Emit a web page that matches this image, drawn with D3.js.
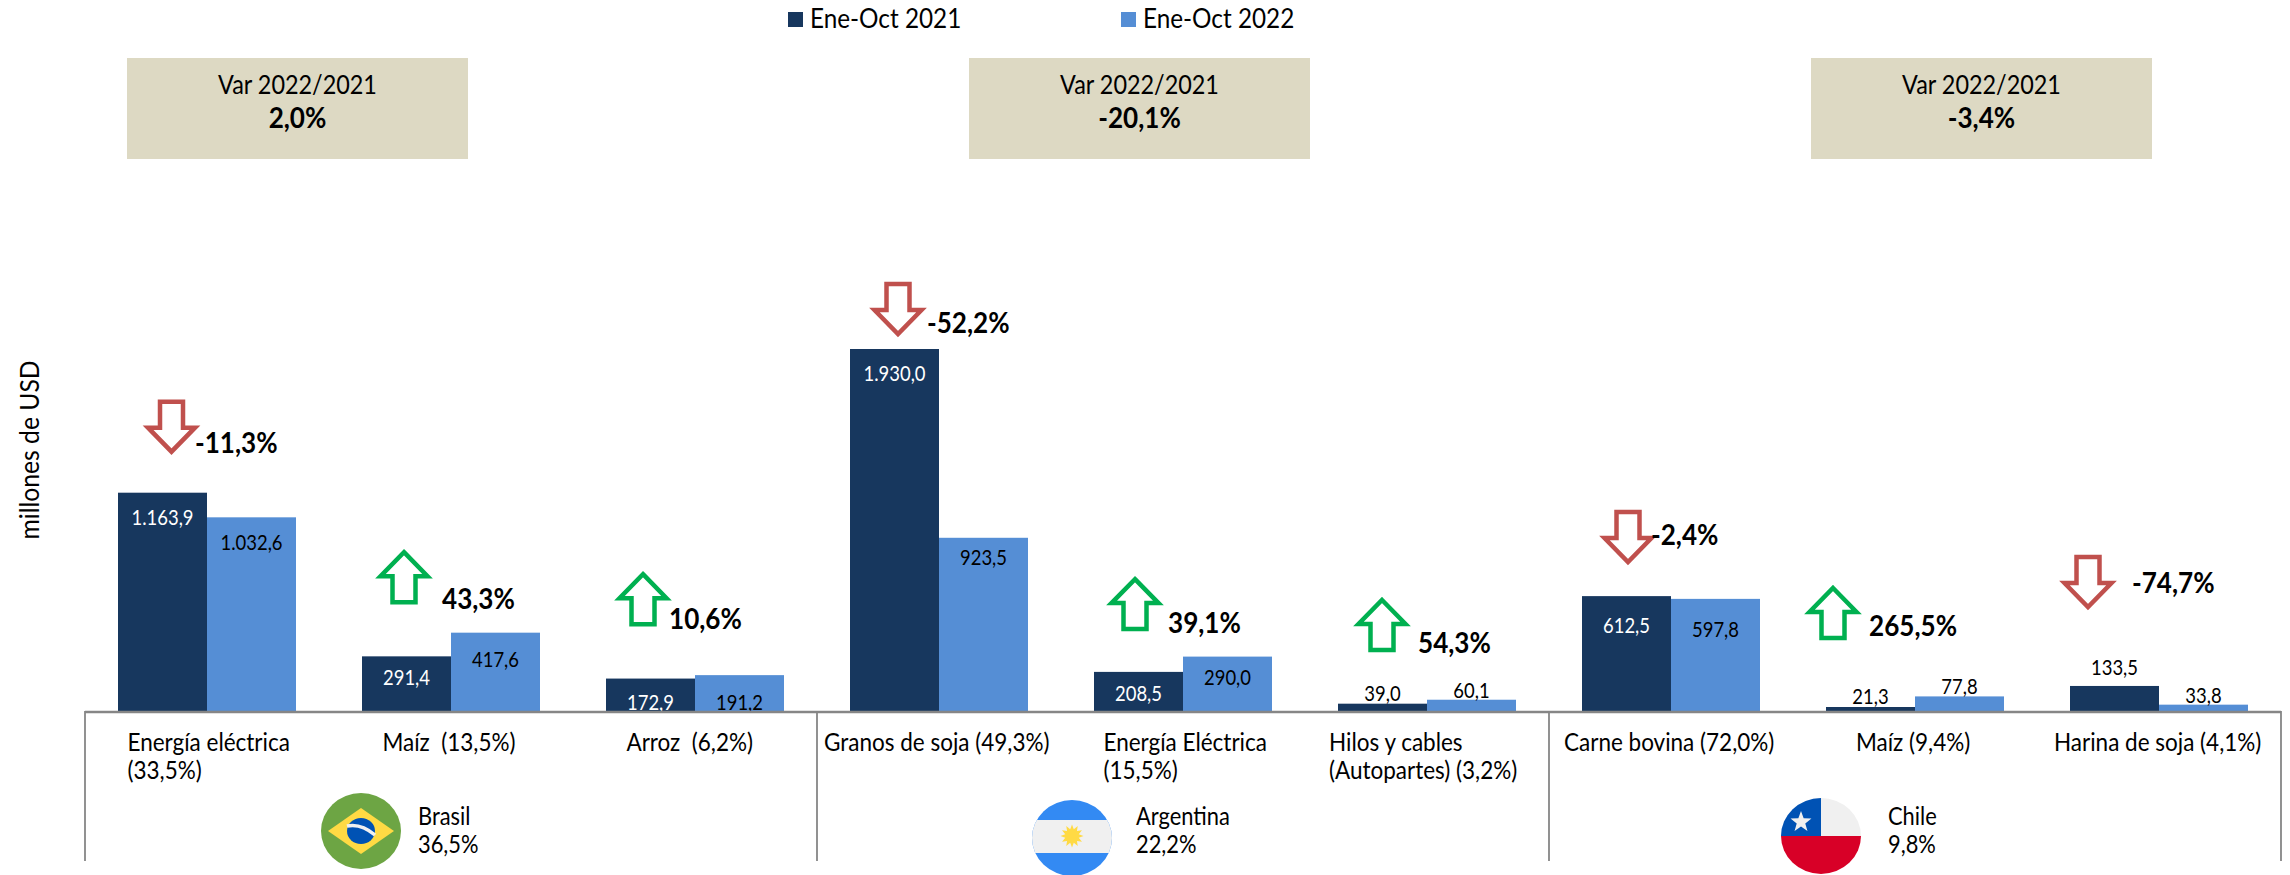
<!DOCTYPE html>
<html><head><meta charset="utf-8">
<script src="https://cdn.jsdelivr.net/npm/d3@7"></script>
<style>html,body{margin:0;padding:0;background:#fff;overflow:hidden}svg{display:block}text{font-family:Lato,"Open Sans",sans-serif;fill:#000}</style>
</head><body>
<script>
const seriesNames = ["Ene-Oct 2021","Ene-Oct 2022"];
const categories = ["Energía eléctrica|(33,5%)","Maíz  (13,5%)","Arroz  (6,2%)","Granos de soja (49,3%)","Energía Eléctrica|(15,5%)","Hilos y cables|(Autopartes) (3,2%)","Carne bovina (72,0%)","Maíz (9,4%)","Harina de soja (4,1%)"];
const values2021 = [1163.9,291.4,172.9,1930.0,208.5,39.0,612.5,21.3,133.5];
const values2022 = [1032.6,417.6,191.2,923.5,290.0,60.1,597.8,77.8,33.8];
const variations = ["-11,3%","43,3%","10,6%","-52,2%","39,1%","54,3%","-2,4%","265,5%","-74,7%"];
const countries = ["Brasil","Argentina","Chile"];
const countryShares = ["36,5%","22,2%","9,8%"];
const countryVars = ["2,0%","-20,1%","-3,4%"];

// ---- layout ----
const W=2290,H=875,base=711,axisL=85,axisR=2281;
const svg=d3.select("body").append("svg").attr("width",W).attr("height",H);
const idx=d3.range(categories.length);
const x=d3.scaleBand().domain(idx).range([axisL,axisR]).paddingInner(66/244).paddingOuter(33/244);
const xs=d3.scaleBand().domain([0,1]).range([0,x.bandwidth()]);
const y=d3.scaleLinear().domain([0,1930]).range([base,349]);
const colors=["#17375E","#558ED5"];
const fmt=v=>{const s=v.toFixed(1).replace(".",",");return v>=1000?s.replace(/^(\d)(\d{3})/,"$1.$2"):s;};
const TX=0.9; // horizontal condensing so Lato matches the narrower original face
function put(sel,px,py,anchor){
  return sel.attr("text-anchor",anchor||"start").attr("transform",`translate(${px},${py}) scale(${TX},1)`);
}

// bars
[values2021,values2022].forEach((vals,s)=>{
  svg.append("g").selectAll("rect").data(vals).join("rect")
    .attr("x",(d,i)=>x(i)+xs(s)).attr("width",xs.bandwidth())
    .attr("y",d=>y(d)).attr("height",d=>base-y(d)).attr("fill",colors[s]);
});

// value labels: baseline offset relative to bar top
const labelDy=[[32,29,31,32,29,-3,37,-3,-11],[33,34,35,27,28,-2,38,-2,-2]];
[values2021,values2022].forEach((vals,s)=>{
  vals.forEach((v,i)=>{
    const t=svg.append("text").text(fmt(v)).attr("font-size",20.5)
      .style("fill",(s===0&&labelDy[s][i]>0)?"#fff":"#000");
    put(t,x(i)+xs(s)+xs.bandwidth()/2,y(v)+labelDy[s][i],"middle");
  });
});

// axis lines
const axisCol="#868686";
svg.append("line").attr("x1",axisL).attr("x2",axisR).attr("y1",base+1).attr("y2",base+1).attr("stroke",axisCol).attr("stroke-width",2.5);
d3.range(4).forEach(k=>{
  const lx=axisL+k*3*x.step();
  svg.append("line").attr("x1",lx).attr("x2",lx).attr("y1",base).attr("y2",861).attr("stroke",axisCol).attr("stroke-width",1.8);
});

// category labels
const catDx=[9.5,20.5,20.5,-26,9.5,-9,-18,30,-16];
categories.forEach((c,i)=>{
  c.split("|").forEach((ln,j)=>{
    const t=svg.append("text").text(ln).attr("font-size",25).style("white-space","pre").attr("xml:space","preserve");
    put(t,x(i)+catDx[i],751+j*28);
  });
});

// arrows
const arrowDx=[-35.5,-47,-52,-41,-48,-45,-43,-82,-71];
const arrowLift=[91,80.5,101,65,77.5,99.7,84,108.4,129];
const varDx=[24.5,38,26,30,33,36,24,36,44];
const varDy=[51,57,55,49,54,53,33,48,36];
function arrowPath(cx,top,down){
  const h=50,hw=23.5,sw=11.5,hh=24;
  const p=d3.path();
  if(down){
    p.moveTo(cx-sw,top);p.lineTo(cx+sw,top);p.lineTo(cx+sw,top+h-hh);p.lineTo(cx+hw,top+h-hh);
    p.lineTo(cx,top+h);p.lineTo(cx-hw,top+h-hh);p.lineTo(cx-sw,top+h-hh);
  }else{
    p.moveTo(cx,top);p.lineTo(cx+hw,top+hh);p.lineTo(cx+sw,top+hh);p.lineTo(cx+sw,top+h);
    p.lineTo(cx-sw,top+h);p.lineTo(cx-sw,top+hh);p.lineTo(cx-hw,top+hh);
  }
  p.closePath();return p.toString();
}
variations.forEach((v,i)=>{
  const down=v[0]==="-";
  const cx=x(i)+x.bandwidth()/2+arrowDx[i];
  const top=y(Math.max(values2021[i],values2022[i]))-arrowLift[i];
  svg.append("path").attr("d",arrowPath(cx,top,down)).attr("fill","#fff")
    .attr("stroke",down?"#C0504D":"#00B050").attr("stroke-width",4.5).attr("stroke-linejoin","miter");
  const t=svg.append("text").text(v).attr("font-size",29).attr("font-weight",700);
  put(t,cx+varDx[i]-(i===0||i===3||i===6?1:0),top+varDy[i]);
});

// legend
const legSq=[788,1121];
seriesNames.forEach((n,i)=>{
  svg.append("rect").attr("x",legSq[i]).attr("y",12).attr("width",15).attr("height",15).attr("fill",colors[i]);
  const t=svg.append("text").text(n).attr("font-size",27);
  put(t,legSq[i]+22,28);
});

// variation boxes
countries.forEach((c,k)=>{
  const bx=127+k*842;
  svg.append("rect").attr("x",bx).attr("y",58).attr("width",341).attr("height",101).attr("fill","#DDD9C3");
  put(svg.append("text").text("Var 2022/2021").attr("font-size",26),bx+170.5,94,"middle");
  put(svg.append("text").text(countryVars[k]).attr("font-size",29).attr("font-weight",700),bx+170.5,128,"middle");
});

// country labels
const ctryX=[418,1136,1888];
countries.forEach((c,k)=>{
  put(svg.append("text").text(c).attr("font-size",24.3),ctryX[k],825);
  put(svg.append("text").text(countryShares[k]).attr("font-size",24.3),ctryX[k],853);
});

// y title
svg.append("text").text("millones de USD").attr("font-size",26).attr("text-anchor","middle")
  .attr("transform","translate(39,450) rotate(-90) scale(0.95,1)");

// flags
const defs=svg.append("defs");
function flag(id,cx,cy,draw){
  defs.append("clipPath").attr("id",id).append("ellipse").attr("cx",cx).attr("cy",cy).attr("rx",40).attr("ry",38);
  draw(svg.append("g").attr("clip-path",`url(#${id})`),cx,cy);
}
flag("fb",361,831,(g,cx,cy)=>{
  g.append("rect").attr("x",cx-40).attr("y",cy-38).attr("width",80).attr("height",76).attr("fill","#6DA544");
  g.append("path").attr("d",`M${cx},${cy-23}L${cx+33},${cy}L${cx},${cy+23}L${cx-33},${cy}Z`).attr("fill","#FFDA44");
  g.append("ellipse").attr("cx",cx).attr("cy",cy).attr("rx",14).attr("ry",13).attr("fill","#0052B4");
  g.append("path").attr("d",`M${cx-14},${cy-5}Q${cx},${cy-8} ${cx+14},${cy+4}`).attr("fill","none").attr("stroke","#F0F0F0").attr("stroke-width",3.5);
});
flag("fa",1072,838,(g,cx,cy)=>{
  g.append("rect").attr("x",cx-40).attr("y",cy-38).attr("width",80).attr("height",76).attr("fill","#338AF3");
  g.append("rect").attr("x",cx-40).attr("y",cy-18).attr("width",80).attr("height",33).attr("fill","#F0F0F0");
  const sun=d3.range(24).map(i=>{const r=i%2?7:11.5,a=i*Math.PI/12;return [cx+r*Math.sin(a),cy-2-r*Math.cos(a)];});
  g.append("path").attr("d",d3.line()(sun)+"Z").attr("fill","#FFDA44");
});
flag("fc",1821,836,(g,cx,cy)=>{
  g.append("rect").attr("x",cx-40).attr("y",cy-38).attr("width",80).attr("height",38).attr("fill","#F0F0F0");
  g.append("rect").attr("x",cx-40).attr("y",cy-38).attr("width",40).attr("height",38).attr("fill","#0052B4");
  g.append("rect").attr("x",cx-40).attr("y",cy).attr("width",80).attr("height",38).attr("fill","#D80027");
  const star=d3.range(10).map(i=>{const r=i%2?4.5:11,a=i*Math.PI/5;return [cx-20+r*Math.sin(a),cy-14-r*Math.cos(a)];});
  g.append("path").attr("d",d3.line()(star)+"Z").attr("fill","#F0F0F0");
});
</script>
</body></html>
